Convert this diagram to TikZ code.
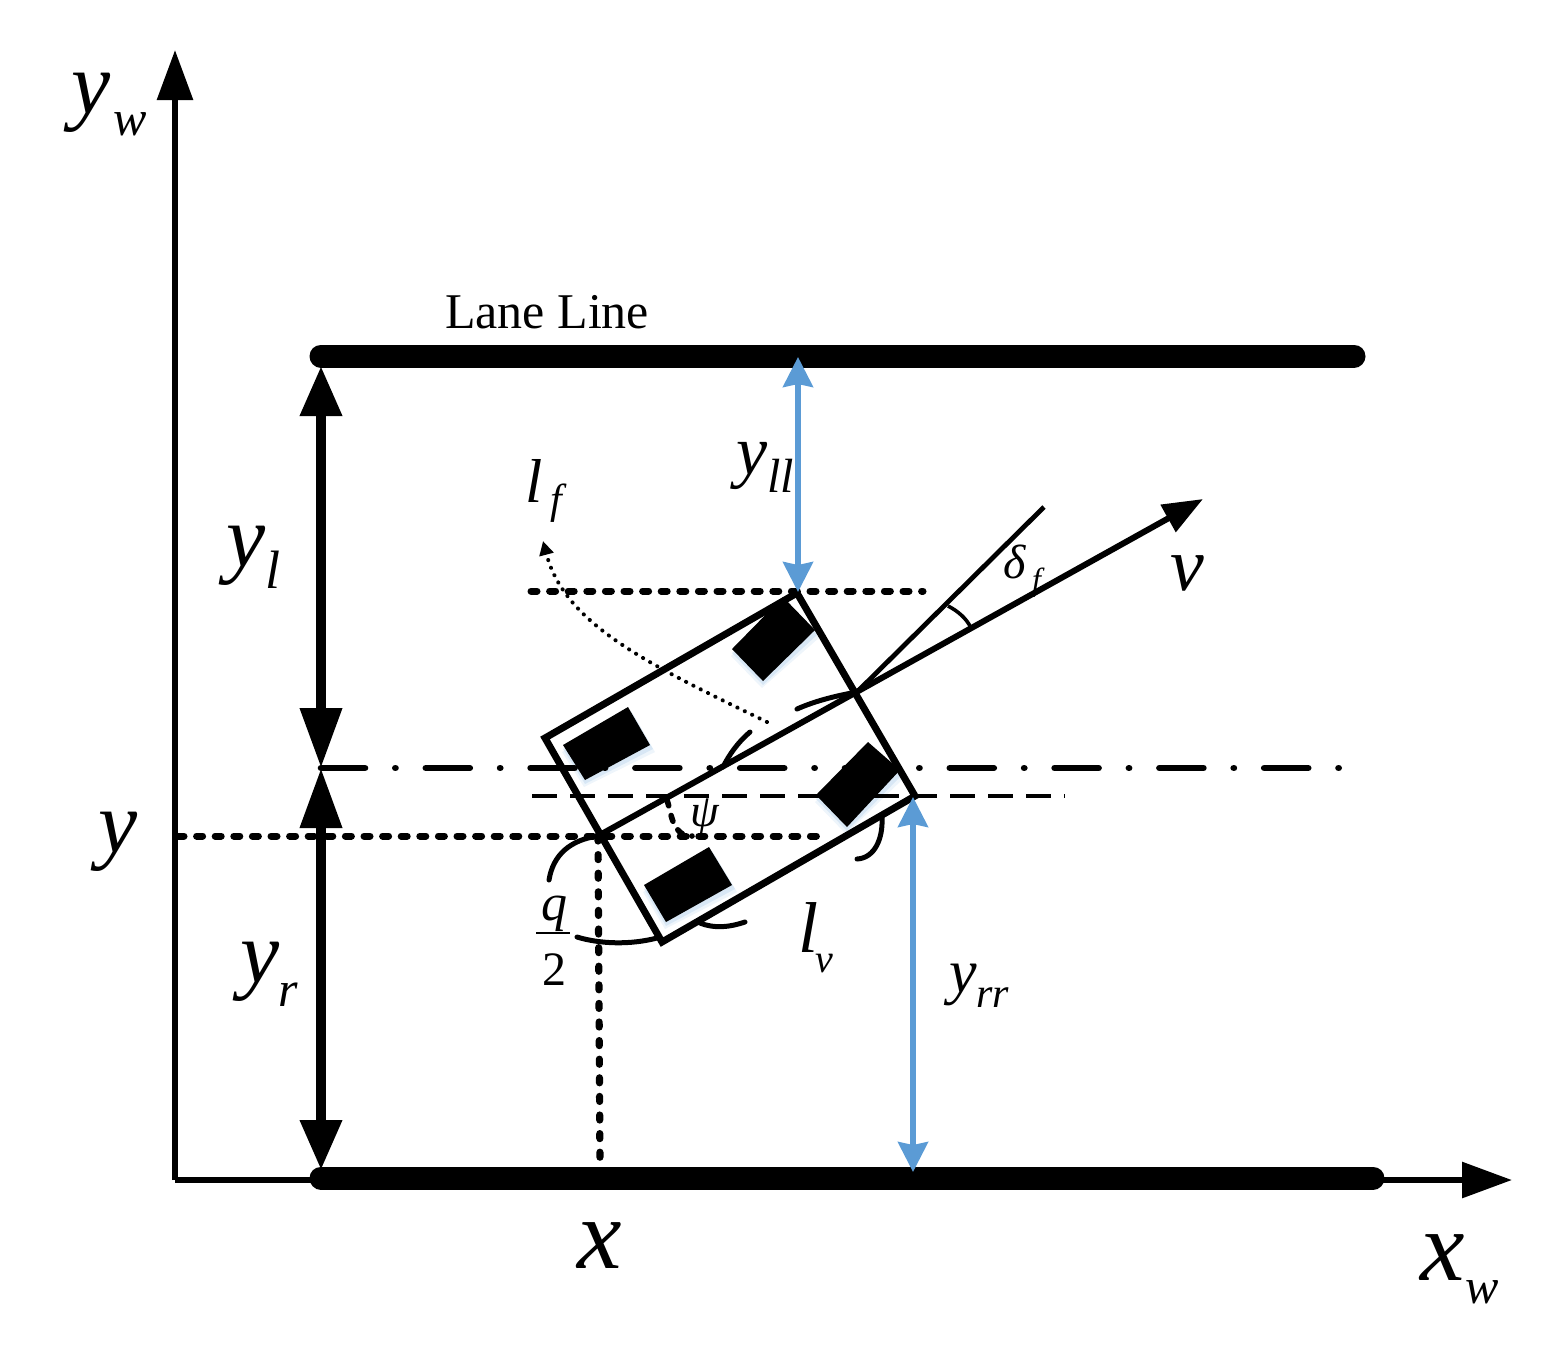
\documentclass[tikz,border=0pt]{standalone}
\usepackage{fontspec}
\setmainfont{Liberation Serif}
\usetikzlibrary{arrows.meta}
\definecolor{laneblue}{HTML}{5B9BD5}
\definecolor{halo}{HTML}{BDD7EE}
\newcommand{\txt}[6][\itshape]{\node[lab,font={\fontsize{#5}{#5}\selectfont#1}] (#2) at (#3,#4) {#6};}
\newcommand{\wheel}[4]{%
  \fill[halo,opacity=.25] ([shift={(-1,7)}]#1) -- ([shift={(-1,7)}]#2) -- ([shift={(5,7)}]#3) -- ([shift={(5,7)}]#4) -- cycle;
  \fill[halo,opacity=.45] ([shift={(0,4)}]#1) -- ([shift={(0,4)}]#2) -- ([shift={(3,4)}]#3) -- ([shift={(3,4)}]#4) -- cycle;
  \fill[black] (#1) -- (#2) -- (#3) -- (#4) -- cycle;}
\tikzset{
  lab/.style={inner sep=0pt,outer sep=0pt,anchor=base west},
  axisline/.style={line width=3pt,-{Triangle[length=25pt,width=17.5pt]}},
  lane/.style={line width=11.5pt,line cap=round},
  bluearrow/.style={line width=2.6pt,laneblue,{Stealth[length=15pt,width=15pt,inset=1.5pt]}-{Stealth[length=15pt,width=15pt,inset=1.5pt]}},
  centreline/.style={line width=3.3pt,line cap=round,dash pattern=on 22pt off 15.15pt on .1pt off 15.15pt},
  thindash/.style={line width=2pt,dash pattern=on 12.5pt off 6.5pt},
  pilldots/.style={line width=3.5pt,line cap=round,dash pattern=on 3pt off 6.3pt},
  finedots/.style={line width=2pt,line cap=round,dash pattern=on .1pt off 4pt},
  carline/.style={line width=3.5pt,miter limit=10},
  arcline/.style={line width=2.5pt,line cap=round},
}
\begin{document}
\begin{tikzpicture}[x=0.5pt,y=-0.5pt]
\useasboundingbox (0,0) rectangle (1547,1357);
% named points
\coordinate (O) at (175,1180);
\coordinate (Ytip) at (175,50);
\coordinate (Xtip) at (1512,1180);
\coordinate (LL) at (321,356);
\coordinate (LR) at (1354,356);
\coordinate (BL) at (321,1178);
\coordinate (BR) at (1373,1178);
\coordinate (Atop) at (321,366);
\coordinate (Amid) at (321,768);
\coordinate (Abot) at (321,1170);
\coordinate (Cend) at (1346,768);
\coordinate (Dl) at (532,796);
\coordinate (Dr) at (1065,796);
\coordinate (Yl) at (178,836);
\coordinate (Yr) at (820,836);
\coordinate (Tl) at (531,591);
\coordinate (Tr) at (923,591);
\coordinate (C1) at (797,593);
\coordinate (C2) at (915,796);
\coordinate (C3) at (662,942);
\coordinate (C4) at (545,738);
\coordinate (Ref) at (598,836);
\coordinate (Piv) at (857,692);
\coordinate (Vtip) at (1203,499);
\coordinate (Steer) at (1044,507);
\coordinate (Xb) at (600,1165);
\coordinate (B1a) at (798,357);
\coordinate (B1b) at (798,592);
\coordinate (B2a) at (913,797);
\coordinate (B2b) at (913,1172);
% wheels
\coordinate (W1a) at (732,649); \coordinate (W1b) at (763,681); \coordinate (W1c) at (815,630); \coordinate (W1d) at (783,597);
\coordinate (W2a) at (563,745); \coordinate (W2b) at (585,780); \coordinate (W2c) at (650,745); \coordinate (W2d) at (628,707);
\coordinate (W3a) at (644,885); \coordinate (W3b) at (666,922); \coordinate (W3c) at (732,885); \coordinate (W3d) at (709,847);
\coordinate (W4a) at (816,795); \coordinate (W4b) at (847,827); \coordinate (W4c) at (900,770); \coordinate (W4d) at (868,742);
% axes and lane lines
\draw[axisline] (O) -- (Ytip);
\draw[axisline] (O) -- (Xtip);
\draw[lane] (LL) -- (LR);
\draw[lane] (BL) -- (BR);
\draw[line width=5pt,{Triangle[length=25pt,width=20pt]}-{Triangle[length=30pt,width=20pt]}] (Atop) -- (Amid);
\draw[line width=5pt,{Triangle[length=30pt,width=20pt]}-{Triangle[length=25pt,width=20pt]}] (Amid) -- (Abot);
% wheels under the body
\wheel{W1a}{W1b}{W1c}{W1d}
\wheel{W2a}{W2b}{W2c}{W2d}
\wheel{W3a}{W3b}{W3c}{W3d}
\wheel{W4a}{W4b}{W4c}{W4d}
\coordinate (Wh1) at (792,601); \coordinate (Wh2) at (806,616);
\draw[white,line width=1.6pt] (Wh1) -- (Wh2);
% reference lines
\draw[centreline] (Amid) -- (Cend);
\draw[thindash] (Dl) -- (Dr);
\draw[pilldots] (Yl) -- (Yr);
\draw[pilldots] (Tl) -- (Tr);
\draw[pilldots,line width=3.6pt,dash pattern=on 2.5pt off 6.8pt] (Ref) -- (Xb);
% body
\draw[carline] (C1) -- (C2) -- (C3) -- (C4) -- cycle;
\draw[line width=3pt,-{Triangle[length=20pt,width=15pt]}] (Ref) -- (Vtip);
\draw[line width=2.4pt] (Piv) -- (Steer);
% arcs
\coordinate (A1a) at (948,606); \coordinate (A1b) at (971,628);
\draw[line width=1.8pt] (A1a) .. controls (958,611) and (967,619) .. (A1b);
\draw[arcline] (797,709) .. controls (815,701) and (835,696) .. (Piv);
\draw[arcline] (750,732) .. controls (738,742) and (729,755) .. (723,767);
\draw[arcline] (882,818) .. controls (883,838) and (875,858) .. (857,859);
\draw[arcline] (Ref) .. controls (570,840) and (553,855) .. (549,880);
\draw[arcline] (577,937) .. controls (600,944) and (630,945) .. (657,938);
\draw[arcline] (700,923) .. controls (715,929) and (730,927) .. (745,922);
\draw[pilldots,line width=2.8pt,dash pattern=on 3pt off 5pt] (667,800) .. controls (672,815) and (672,836) .. (692,836);
\draw[finedots,-{Triangle[length=7pt,width=7pt]}] (767,722) .. controls (650,665) and (565,625) .. (543,541);
% blue measures
\draw[bluearrow] (B1a) -- (B1b);
\draw[bluearrow] (B2a) -- (B2b);
% labels
\txt[]{lane}{445}{328}{25pt}{Lane Line}
\txt{yw}{71}{113}{44pt}{y}
\txt{ywi}{113}{135}{25pt}{w}
\txt{xw}{1420}{1280}{50pt}{x}
\txt{xwi}{1465}{1303}{25pt}{w}
\txt{yy}{98}{852}{44pt}{y}
\txt{xx}{577}{1268}{50pt}{x}
\txt{yl}{226}{566}{44pt}{y}
\txt{yli}{265}{588}{27pt}{l}
\txt{yr}{240}{982}{44pt}{y}
\txt{yri}{278}{1006}{25pt}{r}
\txt{yll}{736}{474}{35pt}{y}
\txt{ylli}{767}{492}{24pt}{ll}
\txt{yrr}{949}{992}{31pt}{y}
\txt{yrri}{976}{1007}{21pt}{rr}
\txt{lf}{525}{502}{31pt}{l}
\txt{lfi}{550}{513}{21pt}{f}
\txt{delta}{1003}{578}{24pt}{δ}
\txt{deltai}{1032}{590}{16pt}{f}
\txt{vv}{1170}{590}{38pt}{v}
\txt{psi}{690}{826}{23pt}{ψ}
\txt[]{two}{542}{985}{24pt}{2}
\txt{qq}{541}{920}{26pt}{q}
\coordinate (Fa) at (536,933); \coordinate (Fb) at (570,933);
\draw[line width=1.2pt] (Fa) -- (Fb);
\txt{lv}{798}{952}{36pt}{l}
\txt{lvi}{815}{972}{20pt}{v}
\end{tikzpicture}
\end{document}
